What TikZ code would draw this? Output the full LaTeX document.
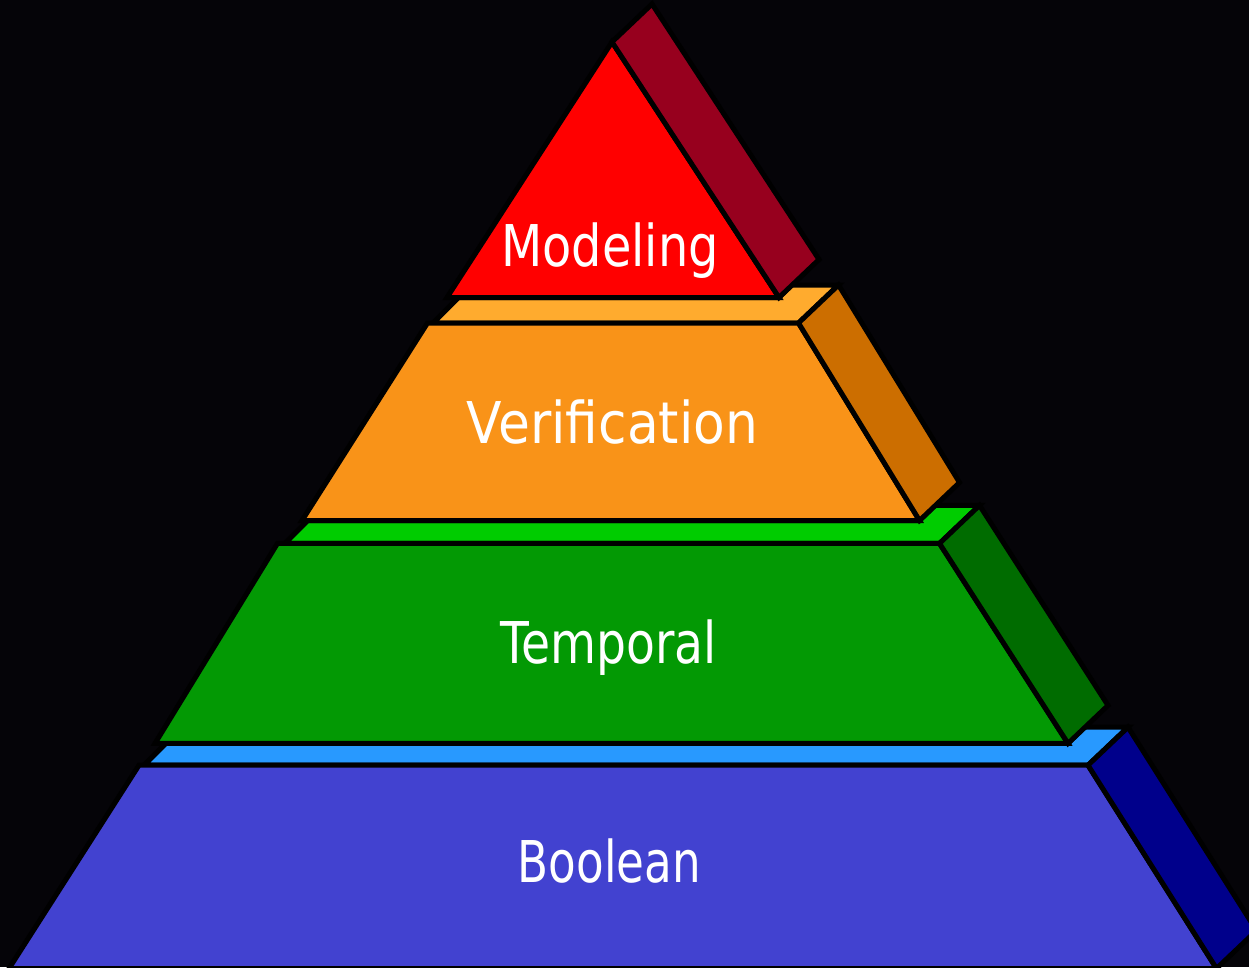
\documentclass[tikz,border=0pt]{standalone}
\usepackage{graphicx}
\usepackage{fontspec}
\setmainfont{DejaVu Sans}
\definecolor{bgc}{HTML}{050408}
\definecolor{redF}{HTML}{FF0000}
\definecolor{redS}{HTML}{97001E}
\definecolor{orangeT}{HTML}{FFAB2E}
\definecolor{orangeF}{HTML}{F99318}
\definecolor{orangeS}{HTML}{CC6E00}
\definecolor{greenT}{HTML}{00CC00}
\definecolor{greenF}{HTML}{039904}
\definecolor{greenS}{HTML}{006C00}
\definecolor{blueT}{HTML}{2899FF}
\definecolor{blueF}{HTML}{4242D0}
\definecolor{blueS}{HTML}{00008B}
\tikzset{
  face/.style={draw=black, line width=5pt, line join=miter},
  lbl/.style={text=white, inner sep=0pt, anchor=base, font=\fontsize{57.6}{60}\selectfont}
}
\begin{document}
\begin{tikzpicture}[x=1pt,y=-1pt]
\fill[bgc] (0,0) rectangle (1249,967);
\useasboundingbox (0,0) rectangle (1249,967);
% Boolean layer
\path[face, fill=blueT] (144,765.2) -- (1088,765.2) -- (1128,727.2) -- (1084.2,727.2) -- (1068,743.4) -- (165.8,743.4) -- cycle;
\path[face, fill=blueF] (139,765.2) -- (1088,765.2) -- (1216.5,968.5) -- (9,968.5) -- cycle;
\path[face, fill=blueS] (1088,765.2) -- (1128,727.2) -- (1256.5,930.5) -- (1216.5,968.5) -- cycle;
% Temporal layer
\path[face, fill=greenT] (285,543.4) -- (939.5,543.4) -- (979.5,505.4) -- (934.6,505.4) -- (919.5,520.5) -- (307.9,520.5) -- cycle;
\path[face, fill=greenF] (277.5,543.4) -- (939.5,543.4) -- (1068,743.4) -- (155,743.4) -- cycle;
\path[face, fill=greenS] (939.5,543.4) -- (979.5,505.4) -- (1108,705.4) -- (1068,743.4) -- cycle;
% Verification layer
\path[face, fill=orangeT] (433,323) -- (798.5,323) -- (838.5,285) -- (791.5,285) -- (779,297.5) -- (458.5,297.5) -- cycle;
\path[face, fill=orangeF] (427.5,323) -- (798.5,323) -- (919.5,520.5) -- (302,520.5) -- cycle;
\path[face, fill=orangeS] (798.5,323) -- (838.5,285) -- (959.5,482.5) -- (919.5,520.5) -- cycle;
% Modeling layer
\path[face, fill=redF] (612,42) -- (779,297.5) -- (447,297.5) -- cycle;
\path[face, fill=redS] (612,42) -- (652,4) -- (819,259.5) -- (779,297.5) -- cycle;
% labels
\node[lbl] (modeling) at (610,266.7) {\scalebox{0.83}[1]{Modeling}};
\node[lbl] (verification) at (612.5,443) {\scalebox{0.9}[1]{Verification}};
\node[lbl] (temporal) at (608.7,663) {\scalebox{0.82}[1]{Temporal}};
\node[lbl] (boolean) at (609.4,882.7) {\scalebox{0.785}[1]{Boolean}};
\end{tikzpicture}
\end{document}
